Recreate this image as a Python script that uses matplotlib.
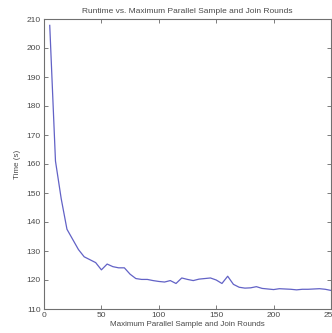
import numpy as np
import matplotlib.pyplot as plt

rounds = [5, 10, 15, 20, 25, 30, 35, 40, 45, 50,
          55, 60, 65, 70, 75, 80, 85, 90, 95, 100,
          105, 110, 115, 120, 125, 130, 135, 140, 145, 150,
          155, 160, 165, 170, 175, 180, 185, 190, 195, 200,
          205, 210, 215, 220, 225, 230, 235, 240, 245, 250]
runtime = [207.8, 161.0, 148.0, 137.5, 134.0, 130.5, 128.0, 127.0, 126.0, 123.5,
           125.5, 124.6, 124.2, 124.2, 122.0, 120.5, 120.2, 120.2, 119.8, 119.5,
           119.3, 119.8, 118.8, 120.7, 120.2, 119.8, 120.3, 120.5, 120.7, 120.0,
           118.8, 121.3, 118.5, 117.5, 117.2, 117.3, 117.7, 117.1, 116.9, 116.7,
           117.0, 116.9, 116.8, 116.6, 116.8, 116.8, 116.9, 117.0, 116.8, 116.4]

xticks = [0, 50, 100, 150, 200, 250]
yticks = [110, 120, 130, 140, 150, 160, 170, 180, 190, 200, 210]

plt.rcParams['font.family'] = ['Liberation Sans', 'DejaVu Sans']
text_col = '#4a4a4a'

fig = plt.figure(figsize=(3.32, 3.33), dpi=100)
ax = fig.add_axes([44 / 332, 24 / 333, 287 / 332, 290 / 333])
ax.plot(rounds, runtime, color='#6262c6', linewidth=0.9)

ax.set_xlim(0, 250)
ax.set_ylim(110, 210)
ax.set_xticks(xticks)
ax.set_yticks(yticks)
ax.tick_params(direction='in', length=3, width=0.6, top=True, right=True,
               labelsize=6, colors='#666666', labelcolor=text_col, pad=2.5)
for s in ax.spines.values():
    s.set_color('#707070')
    s.set_linewidth(0.8)

ax.set_title('Runtime vs. Maximum Parallel Sample and Join Rounds',
             fontsize=6, color=text_col, pad=4)
ax.set_xlabel('Maximum Parallel Sample and Join Rounds', fontsize=5.8,
              color=text_col, labelpad=1)
ax.set_ylabel('Time (s)', fontsize=5.8, color=text_col, labelpad=4)

fig.savefig('out.png', dpi=100)
